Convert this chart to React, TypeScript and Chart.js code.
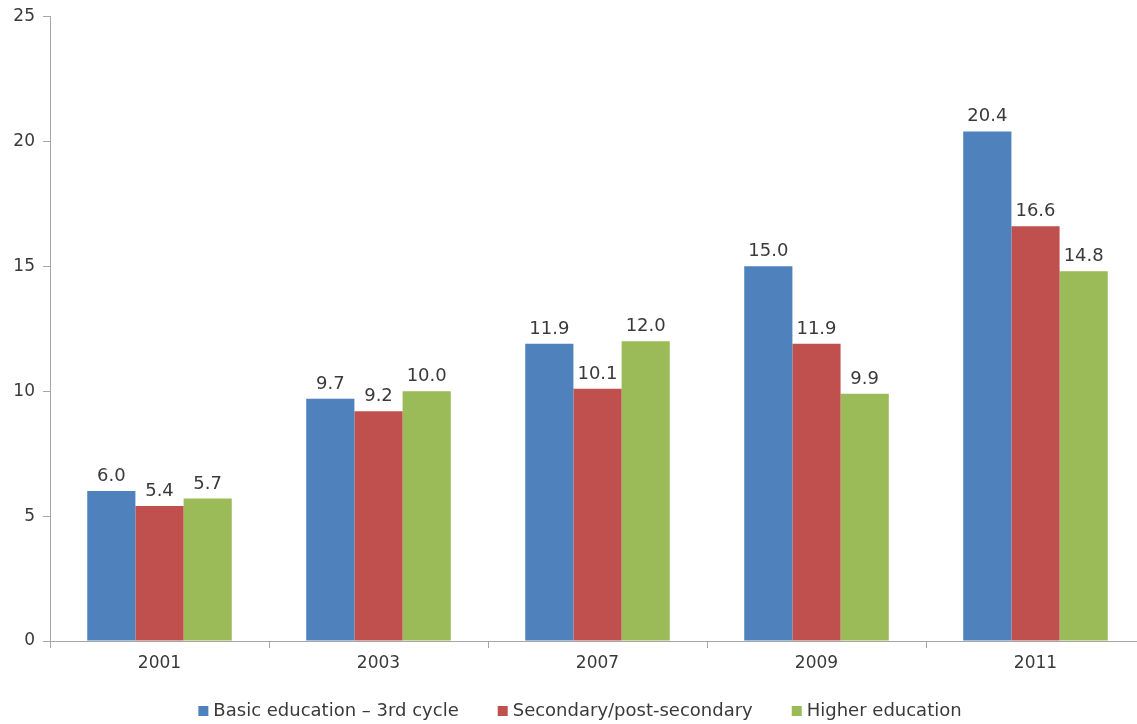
import React, { useEffect, useRef } from "react";
import { Chart, registerables } from "chart.js";

Chart.register(...registerables);

const categories = ["2001", "2003", "2007", "2009", "2011"];
const basicEducation = [6.0, 9.7, 11.9, 15.0, 20.4];
const secondary = [5.4, 9.2, 10.1, 11.9, 16.6];
const higher = [5.7, 10.0, 12.0, 9.9, 14.8];
const seriesNames = ["Basic education – 3rd cycle", "Secondary/post-secondary", "Higher education"];
const seriesColors = ["#4F81BD", "#C0504D", "#9BBB59"];

const FONT = "'DejaVu Sans', sans-serif";
const TEXT = "#3a3a3a";
const AXIS = "#a6a6a6";

const dataLabels = {
  id: "dataLabels",
  afterDatasetsDraw(chart: any) {
    const ctx = chart.ctx;
    ctx.save();
    ctx.font = `18px ${FONT}`;
    ctx.fillStyle = TEXT;
    ctx.textAlign = "center";
    ctx.textBaseline = "alphabetic";
    chart.data.datasets.forEach((ds: any, i: number) => {
      const meta = chart.getDatasetMeta(i);
      meta.data.forEach((bar: any, j: number) => {
        ctx.fillText(Number(ds.data[j]).toFixed(1), bar.x, bar.y - 10);
      });
    });
    ctx.restore();
  },
};

const customLegend = {
  id: "customLegend",
  afterDraw(chart: any) {
    const ctx = chart.ctx;
    ctx.save();
    ctx.font = `18px ${FONT}`;
    ctx.textBaseline = "middle";
    ctx.textAlign = "left";
    const box = 10;
    const gapBoxText = 5;
    const gapItems = 39;
    const widths = seriesNames.map((n) => box + gapBoxText + ctx.measureText(n).width);
    const total = widths.reduce((a, b) => a + b, 0) + gapItems * (widths.length - 1);
    let x = 580 - total / 2;
    const y = 711;
    seriesNames.forEach((n, i) => {
      ctx.fillStyle = seriesColors[i];
      ctx.fillRect(x, y - box / 2, box, box);
      ctx.fillStyle = TEXT;
      ctx.fillText(n, x + box + gapBoxText, y);
      x += widths[i] + gapItems;
    });
    ctx.restore();
  },
};

export default function App() {
  const ref = useRef<HTMLCanvasElement>(null);
  useEffect(() => {
    if (!ref.current) return;
    const values = [basicEducation, secondary, higher];
    const chart = new Chart(ref.current, {
      type: "bar",
      data: {
        labels: categories,
        datasets: values.map((v, i) => ({
          label: seriesNames[i],
          data: v,
          backgroundColor: seriesColors[i],
          barPercentage: 1,
          categoryPercentage: 0.66,
        })),
      },
      options: {
        responsive: false,
        animation: false,
        layout: { padding: { top: 16, left: 0, right: 0, bottom: 40 } },
        plugins: {
          tooltip: { enabled: false },
          legend: { display: false },
        },
        scales: {
          x: {
            grid: { display: true, drawOnChartArea: false, color: AXIS, tickLength: 7, offset: true },
            border: { display: true, color: AXIS, width: 1 },
            ticks: { font: { family: FONT, size: 17 }, color: TEXT, padding: 5 },
            afterFit(scale: any) { scale.height = 43; },
          },
          y: {
            min: 0,
            max: 25,
            ticks: { stepSize: 5, font: { family: FONT, size: 17, lineHeight: 1 }, color: TEXT, padding: 8 },
            grid: { display: true, drawOnChartArea: false, color: AXIS, tickLength: 7 },
            border: { display: true, color: AXIS, width: 1 },
            afterFit(scale: any) { scale.width = 50; },
          },
        },
      },
      plugins: [dataLabels, customLegend],
    });
    return () => chart.destroy();
  }, []);
  return (
    <div style={{ position: "absolute", left: 0, top: 0, width: 1137, height: 724, overflow: "hidden", background: "#fff" }}>
      <canvas ref={ref} width={1145} height={724} style={{ display: "block" }} />
    </div>
  );
}
